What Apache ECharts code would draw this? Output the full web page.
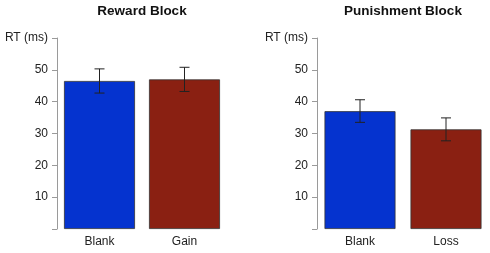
<!DOCTYPE html>
<html>
<head>
<meta charset="utf-8">
<script src="https://cdn.jsdelivr.net/npm/echarts@6/dist/echarts.min.js"></script>
<style>
  html, body { margin: 0; padding: 0; background: #fff; }
  #chart { width: 490px; height: 253px; }
</style>
</head>
<body>
<div id="chart"></div>
<script>
// reaction times (ms)
const rewardCats = ['Blank', 'Gain']
const rewardMeans = [46.5, 47.0]
const rewardErrLow = [42.7, 43.2]
const rewardErrHigh = [50.3, 50.8]

const punishCats = ['Blank', 'Loss']
const punishMeans = [37.0, 31.3]
const punishErrLow = [33.5, 27.7]
const punishErrHigh = [40.6, 34.9]

const titles = ['Reward Block', 'Punishment Block']
const barColors = ['#0533CF', '#8A2012']

const font = 'Arial, "Liberation Sans", sans-serif'
const chart = echarts.init(document.getElementById('chart'))

const yAxis = idx => ({
  type: 'value', gridIndex: idx, min: 0, max: 60, interval: 10,
  axisLine: { show: true, lineStyle: { color: '#9a9a9a', width: 1 } },
  axisTick: { show: true, length: 5, lineStyle: { color: '#9a9a9a' } },
  splitLine: { show: false },
  axisLabel: {
    margin: 9, color: '#222', fontSize: 12, fontFamily: font,
    formatter: v => v === 0 ? '' : (v === 60 ? 'RT (ms)' : String(v))
  }
})

const xAxis = (idx, cats) => ({
  type: 'category', gridIndex: idx, data: cats,
  axisLine: { show: false }, axisTick: { show: false },
  axisLabel: { margin: 7, color: '#222', fontSize: 12, fontFamily: font }
})

const bars = (idx, means) => ({
  type: 'bar', xAxisIndex: idx, yAxisIndex: idx, barWidth: 71,
  data: means.map((v, i) => ({
    value: v,
    itemStyle: { color: barColors[i], borderColor: '#333', borderWidth: 0.8 }
  }))
})

const errors = (idx, lo, hi) => ({
  type: 'custom', xAxisIndex: idx, yAxisIndex: idx, z: 10,
  data: lo.map((l, i) => [i, l, hi[i]]),
  renderItem: (params, api) => {
    const top = api.coord([api.value(0), api.value(2)])
    const bot = api.coord([api.value(0), api.value(1)])
    const w = 5
    const style = { stroke: '#222', lineWidth: 1 }
    return {
      type: 'group',
      children: [
        { type: 'line', shape: { x1: top[0], y1: top[1], x2: bot[0], y2: bot[1] }, style },
        { type: 'line', shape: { x1: top[0] - w, y1: top[1], x2: top[0] + w, y2: top[1] }, style },
        { type: 'line', shape: { x1: bot[0] - w, y1: bot[1], x2: bot[0] + w, y2: bot[1] }, style }
      ]
    }
  }
})

chart.setOption({
  animation: false,
  title: [
    { text: titles[0], left: 137, top: -1, textAlign: 'center',
      textStyle: { fontSize: 13.5, fontWeight: 'bold', color: '#111', fontFamily: font } },
    { text: titles[1], left: 398, top: -1, textAlign: 'center',
      textStyle: { fontSize: 13.5, fontWeight: 'bold', color: '#111', fontFamily: font } }
  ],
  grid: [
    { left: 57, top: 38, width: 170, height: 191 },
    { left: 317, top: 38, width: 172, height: 191 }
  ],
  xAxis: [xAxis(0, rewardCats), xAxis(1, punishCats)],
  yAxis: [yAxis(0), yAxis(1)],
  series: [
    bars(0, rewardMeans),
    bars(1, punishMeans),
    errors(0, rewardErrLow, rewardErrHigh),
    errors(1, punishErrLow, punishErrHigh)
  ]
})
</script>
</body>
</html>
